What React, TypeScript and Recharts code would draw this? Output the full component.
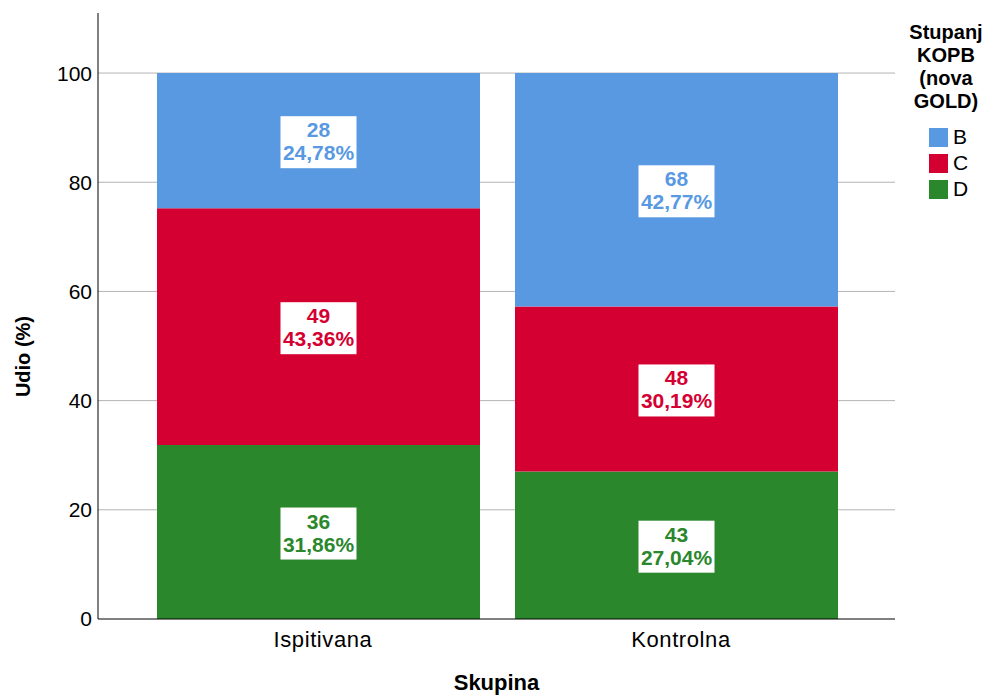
import React from "react"
import { BarChart, Bar, XAxis, YAxis, CartesianGrid, LabelList } from "recharts"

const groups = ["Ispitivana", "Kontrolna"]
const countB = [28, 68]
const countC = [49, 48]
const countD = [36, 43]
const pctB = [24.78, 42.77]
const pctC = [43.36, 30.19]
const pctD = [31.86, 27.04]
const yTicks = [0, 20, 40, 60, 80, 100]
const legendKeys = ["B", "C", "D"]

const colors: Record<string, string> = { B: "#5899e2", C: "#d50032", D: "#2a872c" }
const font = "'Liberation Sans', Arial, sans-serif"

const data = groups.map((g, i) => ({ name: g, B: pctB[i], C: pctC[i], D: pctD[i] }))

const fmt = (v: number) => v.toFixed(2).replace(".", ",") + "%"

function makeLabel(counts: number[], color: string) {
  return (props: any) => {
    const { x, y, width, height, value, index } = props
    const cx = x + width / 2
    const cy = y + height / 2 + 1.5
    return (
      <g>
        <rect x={cx - 38} y={cy - 26} width={76} height={52} fill="#fff" />
        <text x={cx} y={cy - 5} textAnchor="middle" fontSize={21} fontWeight="bold" fill={color} fontFamily={font}>
          {counts[index]}
        </text>
        <text x={cx} y={cy + 18} textAnchor="middle" fontSize={21} fontWeight="bold" fill={color} fontFamily={font}>
          {fmt(value)}
        </text>
      </g>
    )
  }
}

function LegendBox() {
  return (
    <div style={{ position: "absolute", left: 896, top: 21, width: 100, fontFamily: font, color: "#000" }}>
      <div style={{ textAlign: "center", fontWeight: "bold", fontSize: 20, lineHeight: "23px" }}>
        Stupanj<br />KOPB<br />(nova<br />GOLD)
      </div>
      <div style={{ marginTop: 11, marginLeft: 33 }}>
        {legendKeys.map((k) => (
          <div key={k} style={{ display: "flex", alignItems: "center", height: 26, fontSize: 21 }}>
            <span style={{ display: "inline-block", width: 19, height: 19, background: colors[k], marginRight: 5 }} />
            {k}
          </div>
        ))}
      </div>
    </div>
  )
}

export default function App() {
  return (
    <div style={{ position: "absolute", left: 0, top: 0, width: 992, height: 695, background: "#fff" }}>
      <BarChart width={992} height={695} data={data} margin={{ top: 13, right: 97, left: 38, bottom: 0 }}>
        <CartesianGrid vertical={false} horizontalValues={yTicks.slice(1)} stroke="#b4b4b4" strokeWidth={1} />
        <XAxis
          dataKey="name"
          height={76}
          padding={{ left: 41, right: 40 }}
          tickLine={false}
          tickMargin={6}
          axisLine={{ stroke: "#000" }}
          tick={{ fontSize: 22, fill: "#000", fontFamily: font, letterSpacing: 0.6, dx: 5 }}
          label={{ value: "Skupina", position: "insideBottom", offset: 5, fontSize: 22, fontWeight: "bold", fill: "#000", fontFamily: font }}
        />
        <YAxis
          width={60}
          domain={[0, 111]}
          ticks={yTicks}
          tickLine={false}
          tickMargin={0}
          axisLine={{ stroke: "#000" }}
          tick={{ fontSize: 21, fill: "#000", fontFamily: font }}
          label={{ value: "Udio (%)", angle: -90, position: "left", offset: 15, fontSize: 20, fontWeight: "bold", fill: "#000", fontFamily: font }}
        />
        <Bar dataKey="D" stackId="a" fill={colors.D} barSize={323} isAnimationActive={false}>
          <LabelList dataKey="D" content={makeLabel(countD, colors.D)} />
        </Bar>
        <Bar dataKey="C" stackId="a" fill={colors.C} barSize={323} isAnimationActive={false}>
          <LabelList dataKey="C" content={makeLabel(countC, colors.C)} />
        </Bar>
        <Bar dataKey="B" stackId="a" fill={colors.B} barSize={323} isAnimationActive={false}>
          <LabelList dataKey="B" content={makeLabel(countB, colors.B)} />
        </Bar>
      </BarChart>
      <LegendBox />
    </div>
  )
}
